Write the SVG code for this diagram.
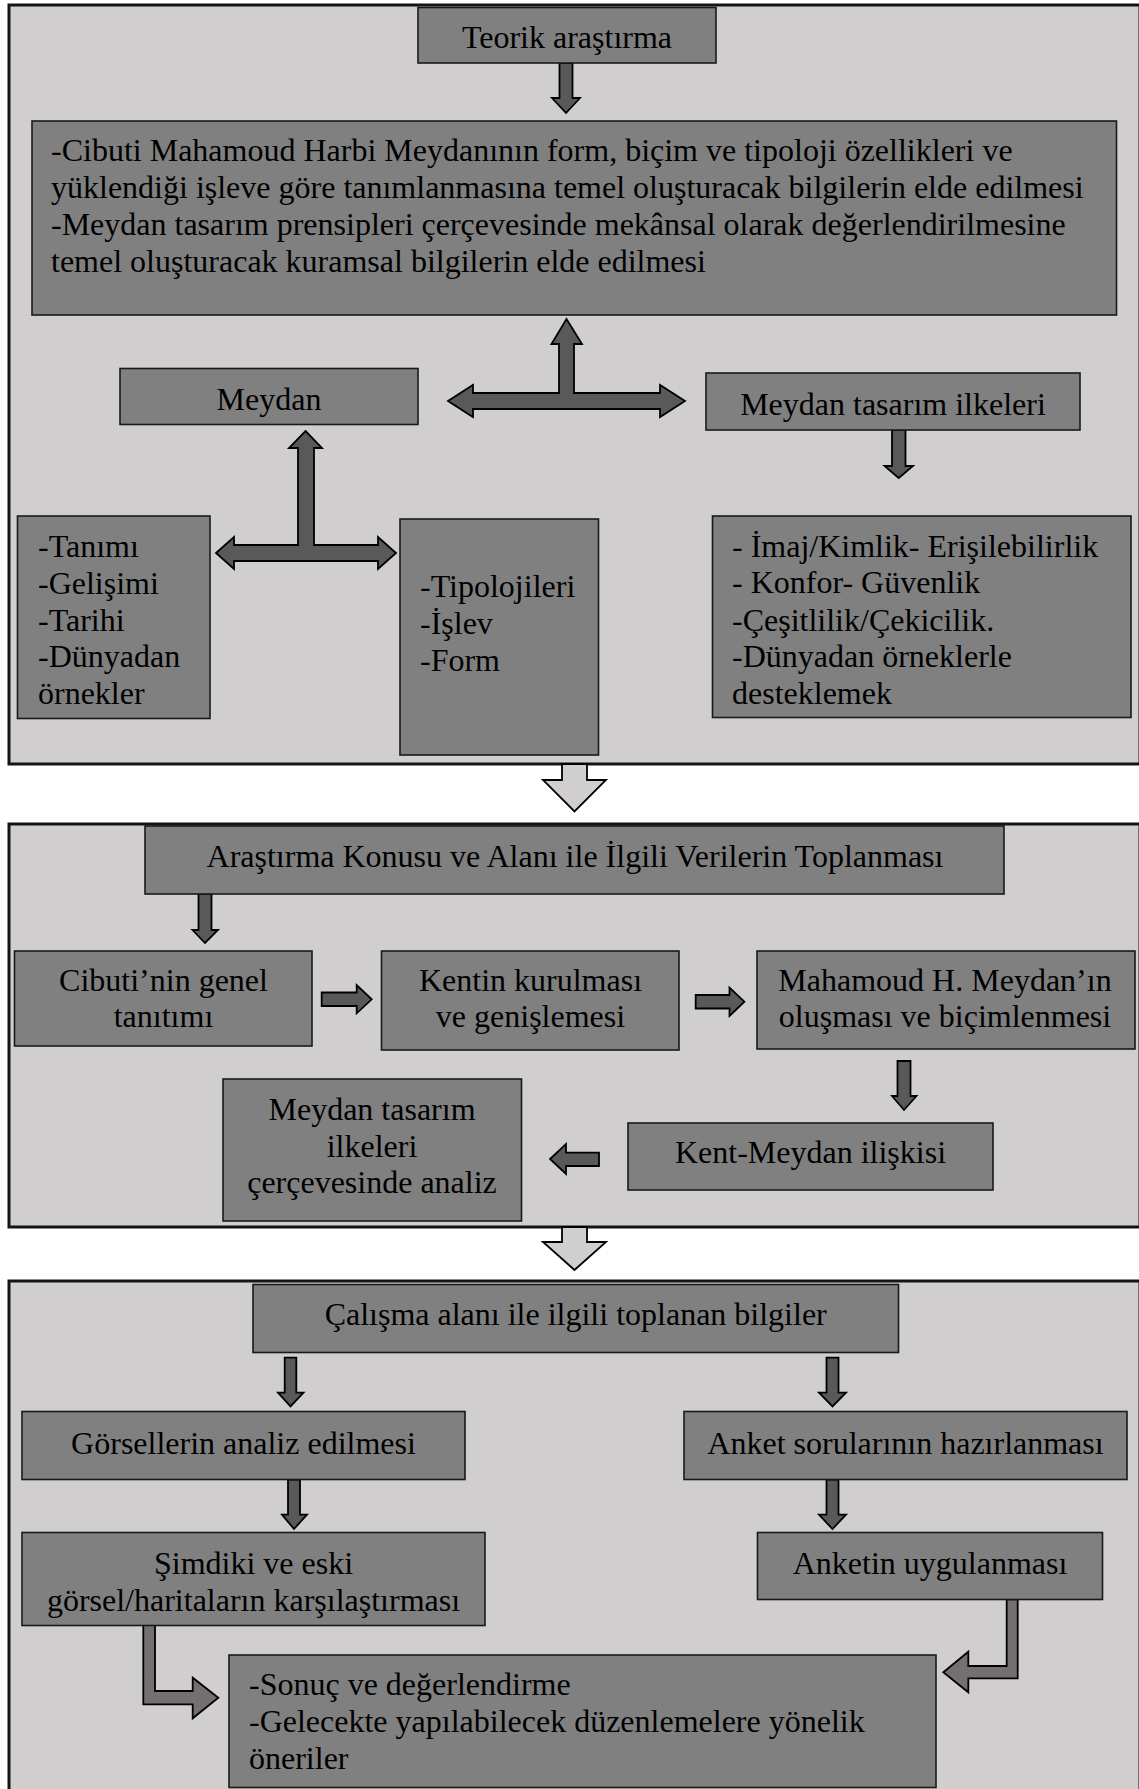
<svg xmlns="http://www.w3.org/2000/svg" width="1139" height="1789" viewBox="0 0 1139 1789">
<style>
.panel{fill:#d0cecf;stroke:#141414;stroke-width:3}
.box{fill:#808080;stroke:#1a1a1a;stroke-width:1.6}
.arr{fill:#595959;stroke:#000;stroke-width:1.8;stroke-linejoin:miter}
.bent{fill:#757070;stroke:#000;stroke-width:1.8}
.hol{fill:#d0cecf;stroke:#000;stroke-width:1.8}
text{font-family:"Liberation Serif","Times New Roman",serif;font-size:32px;fill:#000}
.c{text-anchor:middle}
</style>
<rect width="1139" height="1789" fill="#ffffff"/>
<g id="panels">
<rect class="panel" x="9" y="5" width="1131" height="759"/>
<rect class="panel" x="9" y="824" width="1131" height="403"/>
<rect class="panel" x="9" y="1281" width="1131" height="520"/>
</g>
<g id="connectors">
<polygon class="arr" points="559.5,63 572.5,63 572.5,98 580,98 566,113 552,98 559.5,98"/>
<polygon class="arr" points="566.5,319 582,344 574,344 574,393 660,393 660,385 685,401 660,417 660,409 473,409 473,417 448,401 473,385 473,393 559,393 559,344 551.5,344"/>
<polygon class="arr" points="305.5,431 322,448 314,448 314,545 378,545 378,537 396,553 378,569 378,561 234,561 234,569 216,553 234,537 234,545 298,545 298,448 289,448"/>
<polygon class="arr" points="892,430 905.5,430 905.5,466 913,466 898.7,478 884.5,466 892,466"/>
<polygon class="hol" points="562,764 587,764 587,780 606,780 574.5,811.5 543,780 562,780"/>
<polygon class="arr" points="198.5,894 211.5,894 211.5,930 218,930 205,943 192.5,930 198.5,930"/>
<polygon class="arr" points="321.7,992.5 356.7,992.5 356.7,985 371.7,999.3 356.7,1013.3 356.7,1006 321.7,1006"/>
<polygon class="arr" points="695.7,995 729.5,995 729.5,987.5 744.4,1001.7 729.5,1016 729.5,1008.5 695.7,1008.5"/>
<polygon class="arr" points="897.5,1061 910.5,1061 910.5,1096 916.5,1096 904,1110 892,1096 897.5,1096"/>
<polygon class="arr" points="599,1152.7 566,1152.7 566,1144 550,1159 566,1174 566,1166 599,1166"/>
<polygon class="hol" points="562,1227 587,1227 587,1242 606,1242 574.5,1270 543,1242 562,1242"/>
<polygon class="arr" points="284.7,1357.6 296.3,1357.6 296.3,1392.7 303.5,1392.7 290.5,1406.4 278,1392.7 284.7,1392.7"/>
<polygon class="arr" points="826.5,1357.6 838.5,1357.6 838.5,1392.7 846,1392.7 832.5,1406.4 819,1392.7 826.5,1392.7"/>
<polygon class="arr" points="288,1479.6 300,1479.6 300,1514.7 307,1514.7 294,1529 282,1514.7 288,1514.7"/>
<polygon class="arr" points="826.5,1479.6 838.5,1479.6 838.5,1514.7 846,1514.7 832.5,1529 819,1514.7 826.5,1514.7"/>
<polygon class="bent" points="143.3,1625 155,1625 155,1691 192.7,1691 192.7,1677.7 218.3,1697.7 192.7,1718.3 192.7,1704.3 143.3,1704.3"/>
<polygon class="bent" points="1006.7,1599.3 1017.7,1599.3 1017.7,1678.3 968.3,1678.3 968.3,1692.3 943.3,1672.3 968.3,1651.7 968.3,1666 1006.7,1666"/>
</g>
<g id="n-teorik">
<rect class="box" x="418" y="7.5" width="298" height="55.5"/>
<text class="c" x="567" y="48">Teorik araştırma</text>
</g>
<g id="n-amac">
<rect class="box" x="32" y="121" width="1084.5" height="194"/>
<text x="51" y="161">-Cibuti Mahamoud Harbi Meydanının form, biçim ve tipoloji özellikleri ve</text>
<text x="51" y="198">yüklendiği işleve göre tanımlanmasına temel oluşturacak bilgilerin elde edilmesi</text>
<text x="51" y="235">-Meydan tasarım prensipleri çerçevesinde mekânsal olarak değerlendirilmesine</text>
<text x="51" y="272">temel oluşturacak kuramsal bilgilerin elde edilmesi</text>
</g>
<g id="n-meydan">
<rect class="box" x="120" y="368.5" width="298" height="56"/>
<text class="c" x="269" y="410">Meydan</text>
</g>
<g id="n-ilkeler">
<rect class="box" x="706" y="373" width="374" height="57"/>
<text class="c" x="893" y="415">Meydan tasarım ilkeleri</text>
</g>
<g id="n-tanim">
<rect class="box" x="17.5" y="516" width="192.5" height="202.5"/>
<text x="38" y="557">-Tanımı</text>
<text x="38" y="594">-Gelişimi</text>
<text x="38" y="630.5">-Tarihi</text>
<text x="38" y="667">-Dünyadan</text>
<text x="38" y="704">örnekler</text>
</g>
<g id="n-tipoloji">
<rect class="box" x="400" y="519" width="198.5" height="236"/>
<text x="420" y="597">-Tipolojileri</text>
<text x="420" y="634">-İşlev</text>
<text x="420" y="670.5">-Form</text>
</g>
<g id="n-imaj">
<rect class="box" x="712.5" y="516" width="418.5" height="201.5"/>
<text x="732" y="556.5">- İmaj/Kimlik- Erişilebilirlik</text>
<text x="732" y="593">- Konfor- Güvenlik</text>
<text x="732" y="630.5">-Çeşitlilik/Çekicilik.</text>
<text x="732" y="667">-Dünyadan örneklerle</text>
<text x="732" y="704">desteklemek</text>
</g>
<g id="n-arastirma">
<rect class="box" x="145" y="826" width="859" height="68"/>
<text class="c" x="575" y="867">Araştırma Konusu ve Alanı ile İlgili Verilerin Toplanması</text>
</g>
<g id="n-cibuti">
<rect class="box" x="14.5" y="951" width="297.5" height="95"/>
<text class="c" x="163.5" y="991">Cibuti’nin genel</text>
<text class="c" x="163.5" y="1027">tanıtımı</text>
</g>
<g id="n-kentin">
<rect class="box" x="381.5" y="951" width="297.5" height="99"/>
<text class="c" x="530.5" y="991">Kentin kurulması</text>
<text class="c" x="530.5" y="1027">ve genişlemesi</text>
</g>
<g id="n-mahamoud">
<rect class="box" x="757" y="951" width="378" height="98"/>
<text class="c" x="945" y="991">Mahamoud H. Meydan’ın</text>
<text class="c" x="945" y="1027">oluşması ve biçimlenmesi</text>
</g>
<g id="n-kentmeydan">
<rect class="box" x="628" y="1123" width="365" height="67"/>
<text class="c" x="810.5" y="1163">Kent-Meydan ilişkisi</text>
</g>
<g id="n-analiz">
<rect class="box" x="223" y="1079" width="298.5" height="142"/>
<text class="c" x="372" y="1120">Meydan tasarım</text>
<text class="c" x="372" y="1157">ilkeleri</text>
<text class="c" x="372" y="1193">çerçevesinde analiz</text>
</g>
<g id="n-calisma">
<rect class="box" x="253" y="1284.5" width="645.5" height="68"/>
<text class="c" x="575.7" y="1325">Çalışma alanı ile ilgili toplanan bilgiler</text>
</g>
<g id="n-gorsel">
<rect class="box" x="22" y="1411.5" width="443" height="68"/>
<text class="c" x="243.5" y="1454">Görsellerin analiz edilmesi</text>
</g>
<g id="n-anket">
<rect class="box" x="684" y="1411.5" width="443" height="68"/>
<text class="c" x="905.5" y="1454">Anket sorularının hazırlanması</text>
</g>
<g id="n-simdiki">
<rect class="box" x="22" y="1532.5" width="463" height="93"/>
<text class="c" x="253.5" y="1573.5">Şimdiki ve eski</text>
<text class="c" x="253.5" y="1610.5">görsel/haritaların karşılaştırması</text>
</g>
<g id="n-anketin">
<rect class="box" x="757.5" y="1532.5" width="345" height="67"/>
<text class="c" x="930" y="1574">Anketin uygulanması</text>
</g>
<g id="n-sonuc">
<rect class="box" x="229" y="1655" width="707" height="132.5"/>
<text x="249" y="1695">-Sonuç ve değerlendirme</text>
<text x="249" y="1732">-Gelecekte yapılabilecek düzenlemelere yönelik</text>
<text x="249" y="1769">öneriler</text>
</g>
</svg>
